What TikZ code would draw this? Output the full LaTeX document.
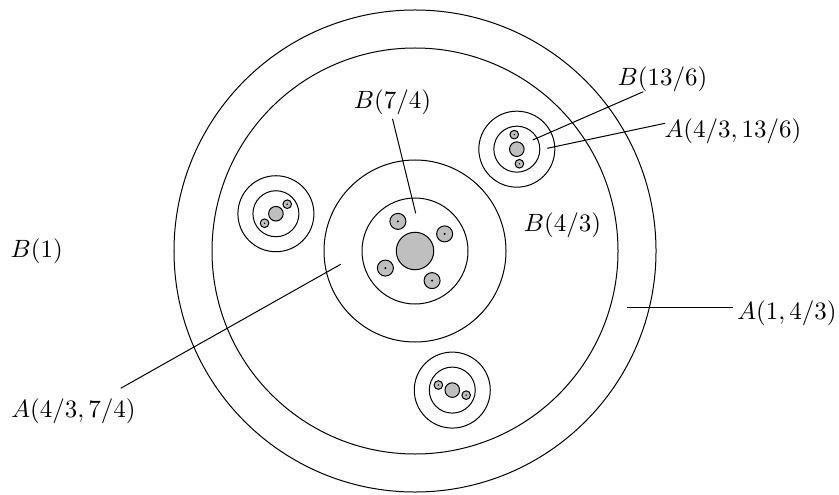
\documentclass[tikz,border=0pt]{standalone}
\usetikzlibrary{calc}
\begin{document}
\begin{tikzpicture}[x=0.4pt,y=0.4pt,
  ring/.style={circle,draw,inner sep=0pt,outer sep=0pt,line width=0.4pt},
  core/.style={ring,fill=black!25},
  dotmark/.style={circle,fill=black,inner sep=0pt,outer sep=0pt,minimum size=#1},
  lab/.style={inner sep=1.5pt},
  lead/.style={line width=0.4pt}]
\useasboundingbox (0,0) rectangle (839,494);
\coordinate (C) at (415,243);
% main rings
\node[ring,minimum size=192.8pt] (outer) at (C) {};
\node[ring,minimum size=162.4pt] (second) at (C) {};
% central cluster
\node[ring,minimum size=72.8pt] (cring) at (C) {};
\node[ring,minimum size=42.4pt] (cinner) at (C) {};
\node[core,minimum size=15pt] (ccore) at (C) {};
\foreach \a [count=\i] in {30,120,210,300}{
  \node[core,minimum size=6.4pt] (cs\i) at ($(C)+(\a:34.2)$) {};
  \node[dotmark=0.9pt] (cd\i) at (cs\i) {};
}
% small clusters
\foreach \a/\n in {45/tr,165/l,285/b}{
  \coordinate (k\n) at ($(C)+(\a:144)$);
  \node[ring,minimum size=30.4pt] (\n-ring) at (k\n) {};
  \node[ring,minimum size=18.4pt] (\n-inner) at (k\n) {};
  \node[core,minimum size=5.84pt] (\n-core) at (k\n) {};
  \pgfmathsetmacro{\aa}{\a+55}
  \pgfmathsetmacro{\ab}{\a+235}
  \node[core,minimum size=3.44pt] (\n-s1) at ($(k\n)+(\aa:14.8)$) {};
  \node[core,minimum size=3.44pt] (\n-s2) at ($(k\n)+(\ab:14.8)$) {};
  \node[dotmark=0.65pt] (\n-d1) at (\n-s1) {};
  \node[dotmark=0.65pt] (\n-d2) at (\n-s2) {};
}
% labels
\node[lab] (lB1) at (36.7,242.3) {$B(1)$};
\node[lab] (lB74) at (392.5,392) {$B(7/4)$};
\node[lab] (lB43) at (562.5,269) {$B(4/3)$};
\node[lab] (lB136) at (662.5,415) {$B(13/6)$};
\node[lab] (lA136) at (733,362.5) {$A(4/3,13/6)$};
\node[lab] (lA1) at (787,181) {$A(1,4/3)$};
\node[lab] (lA74) at (73.5,83) {$A(4/3,7/4)$};
% leader lines
\coordinate (pB74) at (415.7,280.7);
\draw[lead] (lB74.south) -- (pB74);
\coordinate (qB136) at (643.3,402.3);
\coordinate (pB136) at (532.7,354);
\draw[lead] (qB136) -- (pB136);
\coordinate (qA136) at (665,370.7);
\coordinate (pA136) at (547.3,345.7);
\draw[lead] (qA136) -- (pA136);
\coordinate (pA1) at (626.7,186.3);
\draw[lead] (pA1) -- (pA1 -| lA1.west);
\coordinate (qA74) at (120.7,105.7);
\coordinate (pA74) at (340.7,229.7);
\draw[lead] (qA74) -- (pA74);
\end{tikzpicture}
\end{document}
